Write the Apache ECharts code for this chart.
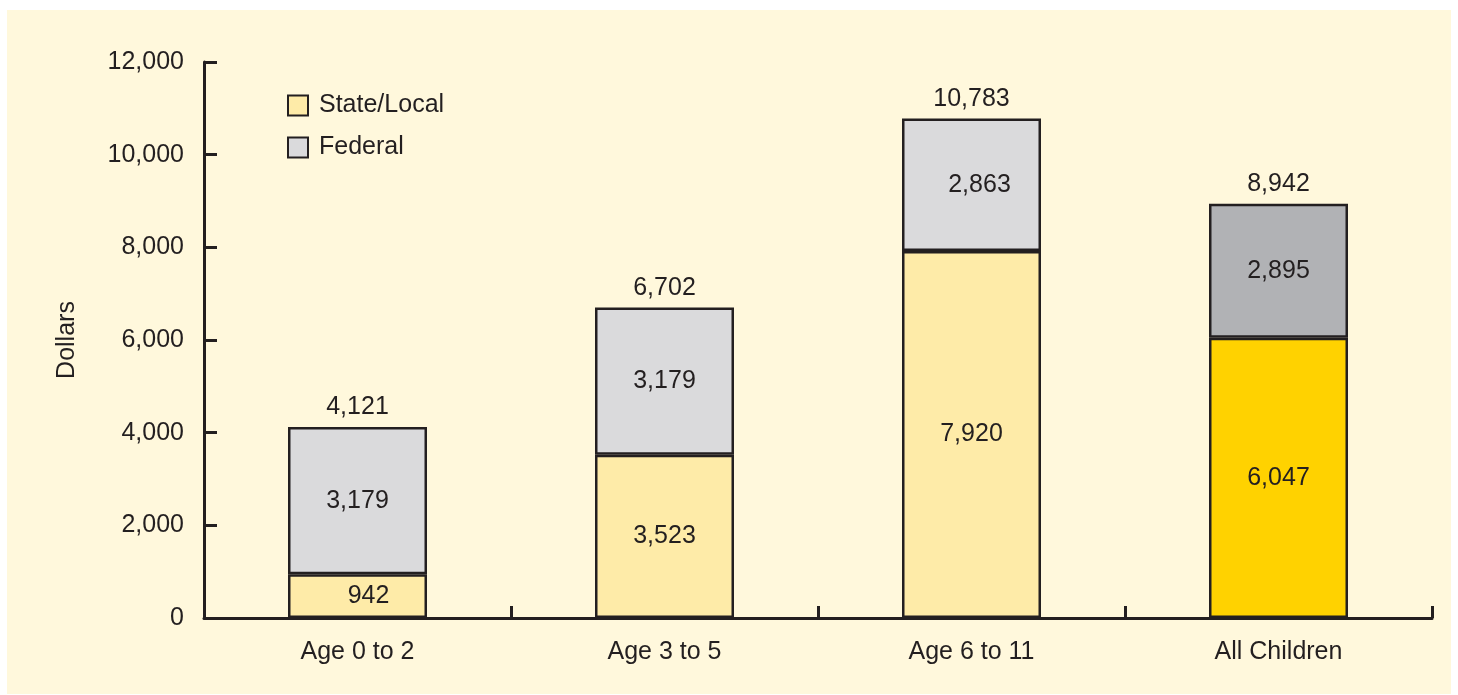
<!DOCTYPE html>
<html>
<head>
<meta charset="utf-8">
<script src="https://cdn.jsdelivr.net/npm/echarts@6/dist/echarts.min.js"></script>
<style>
html,body{margin:0;padding:0;background:#ffffff;}
#wrap{position:absolute;left:7px;top:10px;width:1444px;height:684px;background:#FFF8DC;}
#chart{position:absolute;left:0;top:0;width:1458px;height:695px;}
</style>
</head>
<body>
<div id="wrap"></div>
<div id="chart"></div>
<script>
const categories = ['Age 0 to 2', 'Age 3 to 5', 'Age 6 to 11', 'All Children'];
const stateLocal = [942, 3523, 7920, 6047];
const federal = [3179, 3179, 2863, 2895];
const totals = [4121, 6702, 10783, 8942];
const yTicks = [0, 2000, 4000, 6000, 8000, 10000, 12000];

const ink = '#231F20';
const font = 'Liberation Sans, Arial, Helvetica, sans-serif';
const fs = 25;
const fmt = v => v.toLocaleString('en-US');

const chart = echarts.init(document.getElementById('chart'));
chart.setOption({
  backgroundColor: 'transparent',
  textStyle: { fontFamily: font, color: ink },
  grid: { left: 204, right: 26, top: 62, bottom: 77 },
  legend: {
    orient: 'vertical',
    left: 282, top: 88,
    icon: 'rect',
    itemWidth: 20, itemHeight: 20, itemGap: 17,
    data: ['State/Local', 'Federal'],
    textStyle: { fontFamily: font, fontSize: fs, color: ink, padding: [0, 0, 0, 6] },
    selectedMode: false
  },
  xAxis: {
    type: 'category',
    data: categories,
    axisLine: { lineStyle: { color: ink, width: 3 } },
    axisTick: { show: true, inside: true, length: 12, lineStyle: { color: ink, width: 3 } },
    axisLabel: { fontFamily: font, fontSize: fs, color: ink, margin: 22 }
  },
  yAxis: {
    type: 'value',
    min: yTicks[0], max: yTicks[yTicks.length - 1], interval: 2000,
    name: 'Dollars',
    nameLocation: 'middle',
    nameGap: 124,
    nameRotate: 90,
    nameTextStyle: { fontFamily: font, fontSize: fs, color: ink },
    axisLine: { show: true, lineStyle: { color: ink, width: 3 } },
    axisTick: { show: true, inside: true, length: 13, lineStyle: { color: ink, width: 3 } },
    splitLine: { show: false },
    axisLabel: { fontFamily: font, fontSize: fs, color: ink, margin: 20, formatter: v => fmt(v) }
  },
  series: [
    {
      name: 'State/Local', type: 'bar', stack: 't', barWidth: 139,
      itemStyle: { color: '#FEEBA8', borderColor: ink, borderWidth: 2.5 },
      label: { show: true, position: 'inside', fontFamily: font, fontSize: fs, color: ink, formatter: p => fmt(p.value) },
      data: stateLocal.map((v, i) => {
        if (i === 3) return { value: v, itemStyle: { color: '#FFD200' } };
        if (i === 0) return { value: v, label: { offset: [11, 0] } };
        return v;
      })
    },
    {
      name: 'Federal', type: 'bar', stack: 't', barWidth: 139,
      itemStyle: { color: '#DADADC', borderColor: ink, borderWidth: 2.5 },
      label: { show: true, position: 'inside', fontFamily: font, fontSize: fs, color: ink, formatter: p => fmt(p.value) },
      data: federal.map((v, i) => {
        if (i === 3) return { value: v, itemStyle: { color: '#B1B2B5' } };
        if (i === 2) return { value: v, label: { offset: [8, 0] } };
        return v;
      })
    },
    {
      name: 'Total', type: 'scatter', symbolSize: 0, silent: true,
      itemStyle: { opacity: 1 },
      label: { show: true, position: 'top', distance: 7, fontFamily: font, fontSize: fs, color: ink, formatter: p => fmt(p.value) },
      data: totals
    }
  ]
});
</script>
</body>
</html>
